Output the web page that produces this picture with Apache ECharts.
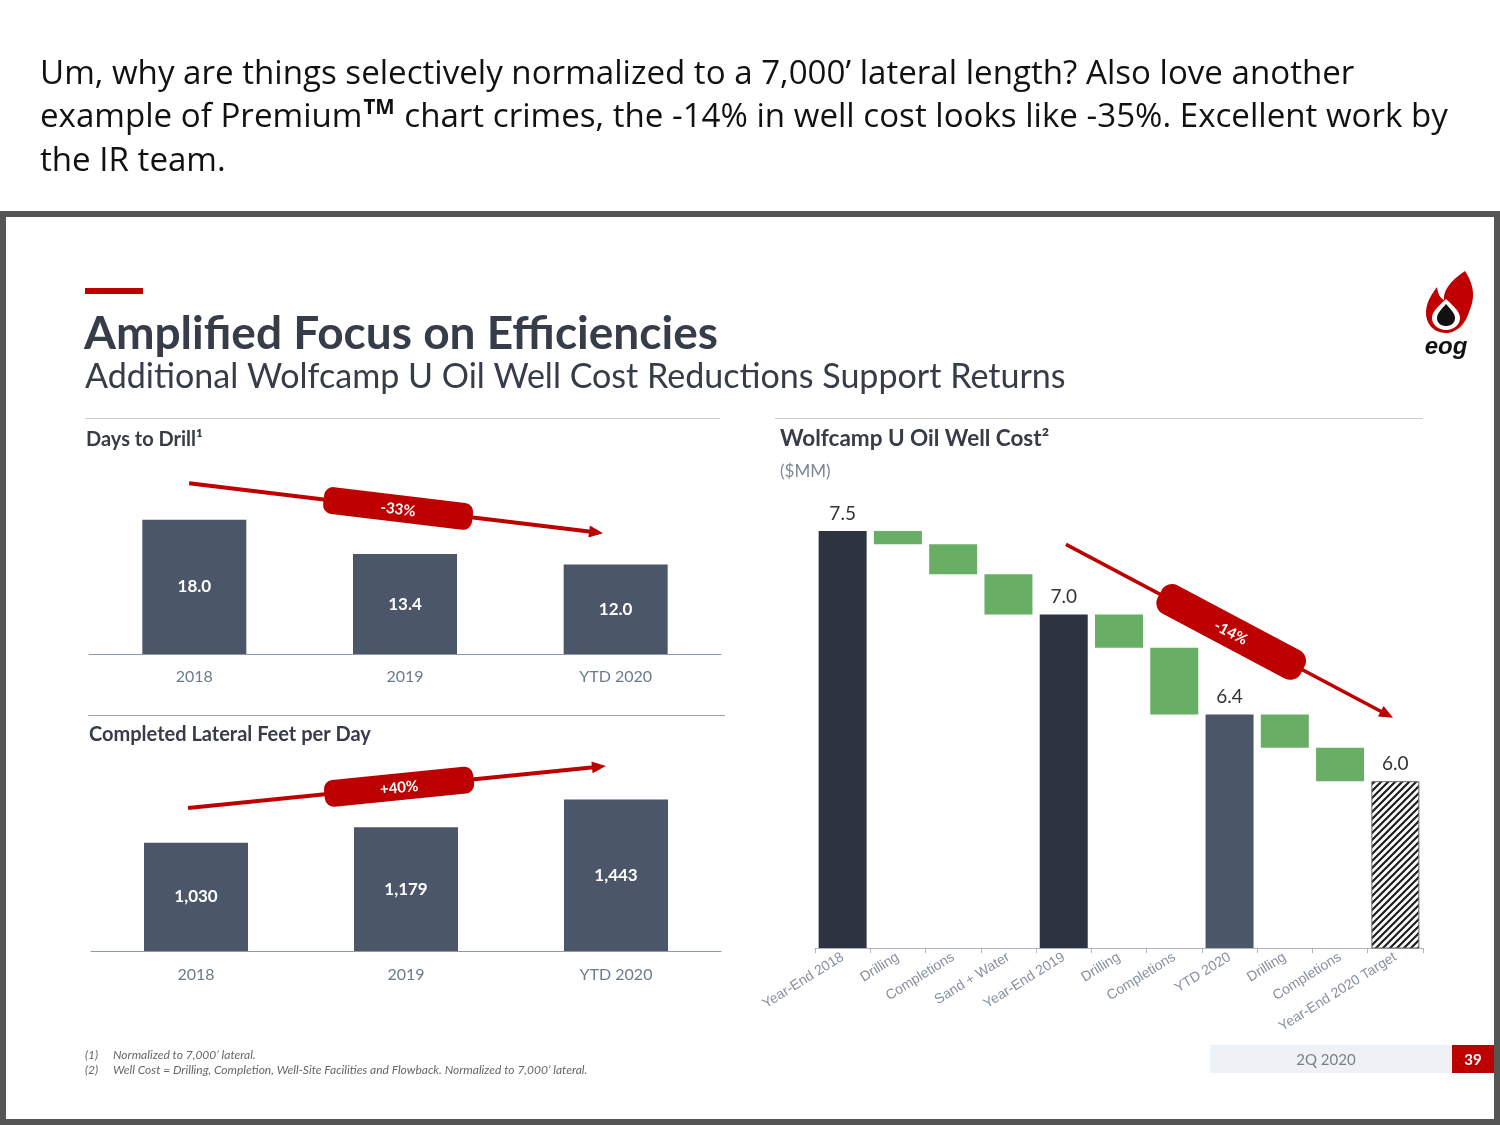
<!DOCTYPE html>
<html><head><meta charset="utf-8">
<script src="https://cdn.jsdelivr.net/npm/echarts@6/dist/echarts.min.js"></script>
<style>html,body{margin:0;padding:0;background:#fff}#c{width:1500px;height:1125px}</style>
</head><body><div id="c"></div>
<script>
// ---------------- data ----------------
const daysCategories = ['2018', '2019', 'YTD 2020'];
const daysValues = [18.0, 13.4, 12.0];
const lateralCategories = ['2018', '2019', 'YTD 2020'];
const lateralValues = [1030, 1179, 1443];
const costCategories = ['Year-End 2018', 'Drilling', 'Completions', 'Sand + Water', 'Year-End 2019',
  'Drilling', 'Completions', 'YTD 2020', 'Drilling', 'Completions', 'Year-End 2020 Target'];
const costValues = [7.5, -0.08, -0.18, -0.24, 7.0, -0.2, -0.4, 6.4, -0.2, -0.2, 6.0];
const costKinds = ['total', 'step', 'step', 'step', 'total', 'step', 'step', 'current', 'step', 'step', 'target'];
const changeLabels = ['-33%', '+40%', '-14%'];
// arrow anchors: [categoryPos, value] start and end
const daysArrow = [[-0.025, 22.9], [1.94, 16.2]];
const lateralArrow = [[-0.038, 1362], [1.952, 1762]];
const costArrow = [[4.04, 7.42], [9.96, 6.38]];

// ---------------- helpers ----------------
const FONT = 'Lato, "Open Sans", sans-serif';
const RED = '#bd0000';
const DARK = '#363c48';
const mctx = document.createElement('canvas').getContext('2d');
function fitSize(text, weight, family, target) {
  mctx.font = weight + ' 100px ' + family;
  return 100 * target / mctx.measureText(text).width;
}
function measure(text, font) { mctx.font = font; return mctx.measureText(text).width; }
function bezPoly(start, segs) {
  const pts = [start.slice()];
  let p = start;
  segs.forEach(s => {
    for (let k = 1; k <= 14; k++) {
      const t = k / 14, u = 1 - t;
      pts.push([
        u * u * u * p[0] + 3 * u * u * t * s[0] + 3 * u * t * t * s[2] + t * t * t * s[4],
        u * u * u * p[1] + 3 * u * u * t * s[1] + 3 * u * t * t * s[3] + t * t * t * s[5]
      ]);
    }
    p = [s[4], s[5]];
  });
  return pts;
}

// waterfall stacking
let running = 0;
const wfBase = [], wfBar = [];
const kindColor = { total: '#2d3340', current: '#4b5669', step: '#68ae64' };
const pc = document.createElement('canvas'); pc.width = 7; pc.height = 7;
const g = pc.getContext('2d');
g.fillStyle = '#fff'; g.fillRect(0, 0, 7, 7);
g.strokeStyle = '#1e1e1e'; g.lineWidth = 2.2;
g.beginPath(); g.moveTo(-1, 8); g.lineTo(8, -1); g.moveTo(-1, 1); g.lineTo(1, -1); g.moveTo(6, 8); g.lineTo(8, 6); g.stroke();
costValues.forEach((v, i) => {
  const k = costKinds[i];
  if (k === 'step') {
    const top = running;
    running = Math.round((running + v) * 1000) / 1000;
    wfBase.push(running);
    wfBar.push({ value: Math.round((top - running) * 1000) / 1000, itemStyle: { color: kindColor.step }, label: { show: false } });
  } else {
    running = v;
    wfBase.push(0);
    wfBar.push({
      value: v,
      itemStyle: k === 'target' ? { color: { image: pc, repeat: 'repeat' }, borderColor: '#666', borderWidth: 1 } : { color: kindColor[k] },
      label: { show: true }
    });
  }
});

const chart = echarts.init(document.getElementById('c'));

const catAxisLabel = { color: '#6c7a8e', fontSize: 16, fontFamily: FONT };
const option = {
  animation: false,
  backgroundColor: '#fff',
  grid: [
    { left: 89, right: 779, top: 475, bottom: 471 },
    { left: 91, right: 779, top: 783, bottom: 174 },
    { left: 815, right: 77, top: 531, bottom: 177 }
  ],
  xAxis: [
    { gridIndex: 0, type: 'category', data: daysCategories, axisLine: { lineStyle: { color: '#8e99a8', width: 1 } }, axisTick: { show: false }, axisLabel: Object.assign({ margin: 15 }, catAxisLabel) },
    { gridIndex: 1, type: 'category', data: lateralCategories, axisLine: { lineStyle: { color: '#8e99a8', width: 1 } }, axisTick: { show: false }, axisLabel: Object.assign({ margin: 16 }, catAxisLabel) },
    { gridIndex: 2, type: 'category', data: costCategories, axisLine: { lineStyle: { color: '#aeb5bf', width: 1 } },
      axisTick: { show: true, length: 5, interval: 0, lineStyle: { color: '#aeb5bf' } },
      axisLabel: { interval: 0, rotate: 32, margin: 8, color: '#8590a0', fontSize: 14, fontFamily: '"Liberation Sans", Arial, sans-serif' } }
  ],
  yAxis: [
    { gridIndex: 0, type: 'value', min: 0, max: 24, show: false },
    { gridIndex: 1, type: 'value', min: 0, max: 1600, show: false },
    { gridIndex: 2, type: 'value', min: 5, max: 7.5, show: false }
  ],
  series: [
    { type: 'bar', xAxisIndex: 0, yAxisIndex: 0, data: daysValues, barWidth: 104, itemStyle: { color: '#4b5669' },
      label: { show: true, position: 'inside', color: '#fff', fontWeight: 'bold', fontSize: 17, fontFamily: FONT, formatter: p => p.value.toFixed(1) } },
    { type: 'bar', xAxisIndex: 1, yAxisIndex: 1, data: lateralValues, barWidth: 104, itemStyle: { color: '#4b5669' },
      label: { show: true, position: 'inside', color: '#fff', fontWeight: 'bold', fontSize: 17, fontFamily: FONT, formatter: p => p.value.toLocaleString('en-US') } },
    { type: 'bar', xAxisIndex: 2, yAxisIndex: 2, stack: 'wf', data: wfBase, barWidth: 48, itemStyle: { color: 'transparent' }, silent: true },
    { type: 'bar', xAxisIndex: 2, yAxisIndex: 2, stack: 'wf', data: wfBar, barWidth: 48, clip: true,
      label: { show: false, position: 'top', distance: 8, color: '#333', fontSize: 19, fontFamily: FONT, formatter: p => p.value.toFixed(1) } }
  ]
};
chart.setOption(option);

// ---------------- annotations ----------------
function px(gi, n, cat, val) {
  const i0 = Math.min(Math.max(Math.floor(cat), 0), n - 2);
  const a = chart.convertToPixel({ xAxisIndex: gi, yAxisIndex: gi }, [i0, val]);
  const b = chart.convertToPixel({ xAxisIndex: gi, yAxisIndex: gi }, [i0 + 1, val]);
  return [a[0] + (b[0] - a[0]) * (cat - i0), a[1]];
}
function arrowEls(p0, p1, label, o) {
  const dx = p1[0] - p0[0], dy = p1[1] - p0[1], L = Math.hypot(dx, dy);
  const ux = dx / L, uy = dy / L, nx = -uy, ny = ux;
  const bx = p1[0] - ux * o.head, by = p1[1] - uy * o.head;
  const cx = p0[0] + dx * 0.505, cy = p0[1] + dy * 0.505, ang = Math.atan2(dy, dx);
  return [
    { type: 'line', z: 100, shape: { x1: p0[0], y1: p0[1], x2: bx + ux * 2, y2: by + uy * 2 }, style: { stroke: RED, lineWidth: o.lw } },
    { type: 'polygon', z: 100, shape: { points: [[p1[0], p1[1]], [bx + nx * o.hw / 2, by + ny * o.hw / 2], [bx - nx * o.hw / 2, by - ny * o.hw / 2]] }, style: { fill: RED } },
    { type: 'group', x: cx, y: cy, rotation: -ang, z: 101, children: [
      { type: 'rect', z: 101, shape: { x: -o.pl / 2, y: -o.ph / 2, width: o.pl, height: o.ph, r: o.r }, style: { fill: RED } },
      { type: 'text', z: 102, style: { text: label, x: 0, y: 1, textAlign: 'center', textVerticalAlign: 'middle', fill: '#fff', font: 'bold ' + o.fs + 'px ' + FONT } }
    ] }
  ];
}

const els = [];
// frame
els.push({ type: 'rect', shape: { x: 3, y: 214, width: 1494, height: 908 }, style: { fill: 'none', stroke: '#555', lineWidth: 6 } });

// tweet text
const TW = '"Open Sans", "Noto Sans", sans-serif';
const l1 = 'Um, why are things selectively normalized to a 7,000’ lateral length? Also love another';
const tws = fitSize(l1, 'normal', TW, 1315);
const twFont = 'normal ' + tws + 'px ' + TW;
els.push({ type: 'text', style: { text: l1, x: 40, y: 75, font: twFont, fill: '#111', textVerticalAlign: 'middle' } });
const l2a = 'example of Premium';
const l2b = ' chart crimes, the -14% in well cost looks like -35%. Excellent work by';
const w2a = measure(l2a, twFont);
const tmFont = 'bold ' + (tws * 0.62) + 'px ' + TW;
const wtm = measure('TM', tmFont);
els.push({ type: 'text', style: { text: l2a, x: 40, y: 118, font: twFont, fill: '#111', textVerticalAlign: 'middle' } });
els.push({ type: 'text', style: { text: 'TM', x: 40 + w2a + 1, y: 108, font: tmFont, fill: '#111', textVerticalAlign: 'middle' } });
els.push({ type: 'text', style: { text: l2b, x: 40 + w2a + wtm + 2, y: 118, font: twFont, fill: '#111', textVerticalAlign: 'middle' } });
els.push({ type: 'text', style: { text: 'the IR team.', x: 40, y: 162, font: twFont, fill: '#111', textVerticalAlign: 'middle' } });

// slide header
els.push({ type: 'rect', shape: { x: 85, y: 288, width: 58, height: 6 }, style: { fill: RED } });
const tTitle = 'Amplified Focus on Efficiencies';
els.push({ type: 'text', style: { text: tTitle, x: 84, y: 334, font: 'bold ' + fitSize(tTitle, 'bold', FONT, 634) + 'px ' + FONT, fill: DARK, textVerticalAlign: 'middle' } });
const tSub = 'Additional Wolfcamp U Oil Well Cost Reductions Support Returns';
els.push({ type: 'text', style: { text: tSub, x: 85, y: 377, font: 'normal ' + fitSize(tSub, 'normal', FONT, 981) + 'px ' + FONT, fill: DARK, textVerticalAlign: 'middle' } });

// separators
els.push({ type: 'line', shape: { x1: 85, y1: 418.5, x2: 720, y2: 418.5 }, style: { stroke: '#c9cdd3', lineWidth: 1 } });
els.push({ type: 'line', shape: { x1: 775, y1: 418.5, x2: 1423, y2: 418.5 }, style: { stroke: '#c9cdd3', lineWidth: 1 } });
els.push({ type: 'line', shape: { x1: 88, y1: 715.5, x2: 725, y2: 715.5 }, style: { stroke: '#9aa3ae', lineWidth: 1 } });

// section titles
els.push({ type: 'text', style: { text: 'Days to Drill¹', x: 86, y: 440, font: 'bold 20px ' + FONT, fill: DARK, textVerticalAlign: 'middle' } });
els.push({ type: 'text', style: { text: 'Completed Lateral Feet per Day', x: 89, y: 735, font: 'bold 20px ' + FONT, fill: DARK, textVerticalAlign: 'middle' } });
els.push({ type: 'text', style: { text: 'Wolfcamp U Oil Well Cost²', x: 780, y: 439, font: 'bold 22.5px ' + FONT, fill: DARK, textVerticalAlign: 'middle' } });
els.push({ type: 'text', style: { text: '($MM)', x: 780, y: 472, font: 'normal 17px ' + FONT, fill: '#7d8796', textVerticalAlign: 'middle' } });

// footnotes
const fnFont = 'italic 12px ' + FONT;
els.push({ type: 'text', style: { text: '(1)', x: 85, y: 1055, font: fnFont, fill: '#666', textVerticalAlign: 'middle' } });
els.push({ type: 'text', style: { text: 'Normalized to 7,000’ lateral.', x: 113, y: 1055, font: fnFont, fill: '#666', textVerticalAlign: 'middle' } });
els.push({ type: 'text', style: { text: '(2)', x: 85, y: 1070, font: fnFont, fill: '#666', textVerticalAlign: 'middle' } });
els.push({ type: 'text', style: { text: 'Well Cost = Drilling, Completion, Well-Site Facilities and Flowback. Normalized to 7,000’ lateral.', x: 113, y: 1070, font: fnFont, fill: '#666', textVerticalAlign: 'middle' } });

// footer
els.push({ type: 'rect', shape: { x: 1210, y: 1045, width: 242, height: 28 }, style: { fill: '#eef2f6' } });
els.push({ type: 'text', style: { text: '2Q 2020', x: 1326, y: 1060, font: 'normal 15px ' + FONT, fill: '#7a7f88', textAlign: 'center', textVerticalAlign: 'middle' } });
els.push({ type: 'rect', shape: { x: 1452, y: 1045, width: 42, height: 28 }, style: { fill: RED } });
els.push({ type: 'text', style: { text: '39', x: 1473, y: 1060, font: 'bold 15px ' + FONT, fill: '#fff', textAlign: 'center', textVerticalAlign: 'middle' } });

// logo (flame + drop + wordmark)
els.push({ type: 'polygon', shape: { points: bezPoly([1465, 271], [
  [1476, 288, 1474, 300, 1469, 312], [1465, 325, 1456, 333, 1446, 333], [1434, 333, 1426, 324, 1426, 313],
  [1426, 302, 1432, 294, 1437, 287], [1438, 294, 1440, 298, 1444, 300], [1443, 289, 1453, 279, 1465, 271]]) }, style: { fill: '#c00000' } });
els.push({ type: 'polygon', shape: { points: bezPoly([1446, 299], [
  [1452, 305, 1460, 311, 1460, 318], [1460, 325, 1453, 330, 1446, 330], [1439, 330, 1432, 325, 1432, 318], [1432, 311, 1440, 305, 1446, 299]]) }, style: { fill: '#fff' } });
els.push({ type: 'polygon', shape: { points: bezPoly([1446, 304], [
  [1450, 309, 1455, 313, 1455, 318], [1455, 323, 1451, 326, 1446, 326], [1441, 326, 1437, 323, 1437, 318], [1437, 313, 1442, 309, 1446, 304]]) }, style: { fill: '#111' } });
els.push({ type: 'text', style: { text: 'eog', x: 1446, y: 347, font: 'italic bold 24px "Liberation Sans", Arial, sans-serif', fill: '#111', textAlign: 'center', textVerticalAlign: 'middle' } });

// arrows
const leftOpt = { lw: 4, head: 14, hw: 12, pl: 150, ph: 27, r: 9, fs: 15 };
els.push(...arrowEls(px(0, 3, daysArrow[0][0], daysArrow[0][1]), px(0, 3, daysArrow[1][0], daysArrow[1][1]), changeLabels[0], leftOpt));
els.push(...arrowEls(px(1, 3, lateralArrow[0][0], lateralArrow[0][1]), px(1, 3, lateralArrow[1][0], lateralArrow[1][1]), changeLabels[1], leftOpt));
els.push(...arrowEls(px(2, 11, costArrow[0][0], costArrow[0][1]), px(2, 11, costArrow[1][0], costArrow[1][1]), changeLabels[2],
  { lw: 3.5, head: 14, hw: 12, pl: 162, ph: 32, r: 12, fs: 15 }));

chart.setOption({ graphic: { elements: els } });
</script></body></html>
